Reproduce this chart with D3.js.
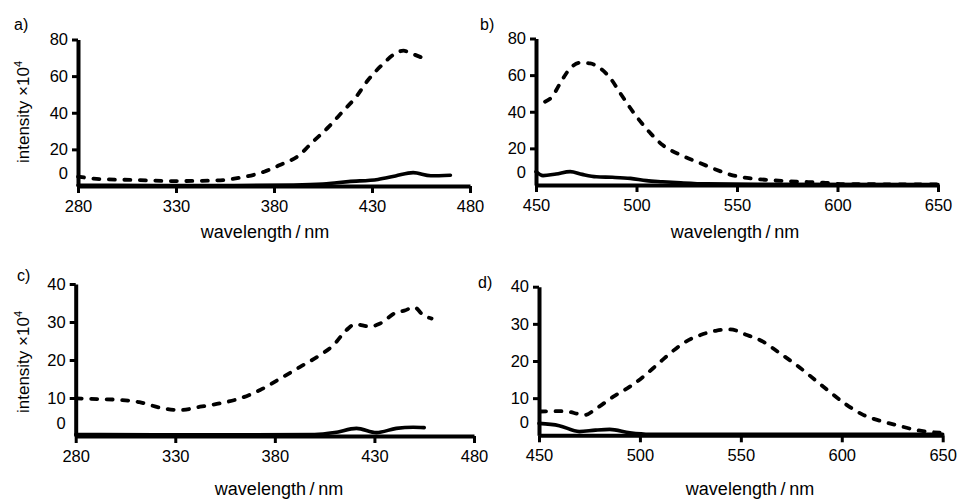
<!DOCTYPE html>
<html>
<head>
<meta charset="utf-8">
<script src="https://cdn.jsdelivr.net/npm/d3@7"></script>
<style>
  body { margin: 0; background: #fff; }
  svg { display: block; font-family: "Liberation Sans", Arial, sans-serif; }
</style>
</head>
<body>
<div id="chart"></div>
<script>
// ---- data ----
// panel a (excitation, 280-480 nm)
var aDashWl  = [280, 291, 308, 330, 350, 365, 375, 383, 393, 399, 408, 415, 422, 428, 435, 442, 446, 450, 455];
var aDashVal = [5.1, 3.8, 3.3, 2.7, 3.0, 5.0, 7.8, 11.5, 16.9, 23.3, 32.4, 40.6, 48.8, 57.9, 66.0, 72.4, 73.9, 72.4, 70.3];
var aSolidWl  = [280, 320, 360, 390, 405, 412, 418, 433, 442, 451, 460, 470];
var aSolidVal = [0.4, 0.3, 0.3, 0.5, 1.0, 1.8, 2.4, 3.6, 5.5, 7.3, 5.6, 5.9];

// panel b (emission, 450-650 nm)
var bDashWl  = [454.5, 458, 462, 467, 472, 477, 482, 487, 492, 497, 502, 507, 513, 522, 530, 538, 546.5, 556, 566, 581, 593, 603, 650];
var bDashVal = [45.5, 48.2, 55.5, 63.7, 66.8, 66.4, 63.7, 58.3, 50.0, 41.9, 34.6, 28.2, 21.8, 16.4, 12.7, 9.1, 5.7, 3.7, 2.7, 1.8, 1.3, 0.5, 0.3];
var bSolidWl  = [450, 453.5, 460, 467, 473, 480, 488, 497, 505, 513, 522, 535, 560, 650];
var bSolidVal = [7.3, 5.1, 6.0, 7.3, 5.8, 4.5, 4.2, 3.6, 2.4, 1.8, 1.2, 0.6, 0.4, 0.3];

// panel c (excitation, 280-480 nm)
var cDashWl  = [280, 292, 302, 312, 322, 332, 342.5, 352.5, 362.6, 372.6, 383, 392.7, 402.7, 409.4, 416, 420.3, 427.8, 432.8, 441, 445, 450, 454.5, 458.7];
var cDashVal = [9.9, 9.7, 9.5, 8.9, 7.5, 6.8, 7.7, 8.6, 9.9, 12.1, 15.2, 18.2, 21.3, 23.9, 27.9, 29.4, 28.8, 29.6, 32.5, 33.0, 33.9, 31.8, 30.9];
var cSolidWl  = [280, 320, 360, 400, 410, 421, 431, 441, 449.5, 455];
var cSolidVal = [0.4, 0.3, 0.3, 0.4, 0.9, 2.0, 0.9, 2.0, 2.3, 2.2];

// panel d (emission, 450-650 nm)
var dDashWl  = [450.5, 462, 472.8, 478.6, 486.8, 495, 501.7, 508.3, 515, 521.5, 530, 538, 544.7, 553, 561, 569.3, 577.6, 585.9, 594, 602.4, 610.6, 619, 628.8, 637, 648.5];
var dDashVal = [6.4, 6.5, 5.5, 7.3, 10.4, 13.1, 15.8, 18.9, 22.1, 24.8, 27.0, 28.2, 28.5, 27.0, 25.2, 22.1, 18.9, 15.3, 11.7, 8.2, 5.5, 3.9, 2.5, 1.4, 0.7];
var dSolidWl  = [450, 460, 470, 478, 485, 495, 505, 550, 650];
var dSolidVal = [3.2, 2.6, 1.0, 1.4, 1.6, 0.7, 0.3, 0.3, 0.3];

var excitationTicks = [280, 330, 380, 430, 480];
var emissionTicks = [450, 500, 550, 600, 650];
var yTicks80 = [0, 20, 40, 60, 80];
var yTicks40 = [0, 10, 20, 30, 40];

// ---- layout ----
var svg = d3.select("#chart")
    .append("svg")
    .attr("width", 959)
    .attr("height", 501);

var panels = [
    { label: "a)", lx: 14, ly: 30, xr: [78, 470], yr: [186, 39.5], xd: [280, 480], yd: [0, 80],
      xt: excitationTicks, yt: yTicks80, titleX: 265, titleY: 238, yTitle: true, yTitleY: 112,
      dash: [aDashWl, aDashVal], solid: [aSolidWl, aSolidVal] },
    { label: "b)", lx: 480, ly: 30, xr: [536, 938], yr: [185, 38.5], xd: [450, 650], yd: [0, 80],
      xt: emissionTicks, yt: yTicks80, titleX: 735, titleY: 238, yTitle: false,
      dash: [bDashWl, bDashVal], solid: [bSolidWl, bSolidVal] },
    { label: "c)", lx: 17, ly: 281, xr: [75.7, 474], yr: [436, 284], xd: [280, 480], yd: [0, 40],
      xt: excitationTicks, yt: yTicks40, titleX: 279, titleY: 495, yTitle: true, yTitleY: 362,
      dash: [cDashWl, cDashVal], solid: [cSolidWl, cSolidVal] },
    { label: "d)", lx: 478, ly: 288, xr: [539, 942.7], yr: [435.3, 286.7], xd: [450, 650], yd: [0, 40],
      xt: emissionTicks, yt: yTicks40, titleX: 750, titleY: 495, yTitle: false,
      dash: [dDashWl, dDashVal], solid: [dSolidWl, dSolidVal] }
];

panels.forEach(function(p) {
    var x = d3.scaleLinear().domain(p.xd).range(p.xr);
    var y = d3.scaleLinear().domain(p.yd).range(p.yr);
    var g = svg.append("g");

    // curves
    var line = d3.line()
        .x(function(d) { return x(d[0]); })
        .y(function(d) { return y(d[1]); })
        .curve(d3.curveMonotoneX);

    g.append("path")
        .datum(d3.zip(p.solid[0], p.solid[1]))
        .attr("fill", "none")
        .attr("stroke", "#000")
        .attr("stroke-width", 3.6)
        .attr("stroke-linecap", "round")
        .attr("d", line);

    g.append("path")
        .datum(d3.zip(p.dash[0], p.dash[1]))
        .attr("fill", "none")
        .attr("stroke", "#000")
        .attr("stroke-width", 3.8)
        .attr("stroke-linecap", "round")
        .attr("stroke-dasharray", "6,9.5")
        .attr("d", line);

    // x axis
    var xa = g.append("g")
        .attr("transform", "translate(0," + p.yr[0] + ")")
        .call(d3.axisBottom(x).tickValues(p.xt).tickSize(7).tickSizeOuter(0).tickPadding(7));
    xa.select(".domain").attr("stroke-width", 4);
    xa.selectAll(".tick line").attr("stroke-width", 3);
    xa.selectAll("text").attr("font-size", 16.5).attr("fill", "#000");

    // y axis
    var ya = g.append("g")
        .attr("transform", "translate(" + p.xr[0] + ",0)")
        .call(d3.axisLeft(y).tickValues(p.yt).tickSize(6).tickSizeOuter(0).tickPadding(4));
    ya.select(".domain").attr("stroke-width", 4);
    ya.selectAll(".tick line").attr("stroke-width", 3);
    ya.selectAll("text").attr("font-size", 16.5).attr("fill", "#000");
    // the zero label sits above the baseline in the original
    ya.selectAll(".tick").filter(function(d) { return d === 0; })
        .select("text").attr("y", -13);
    ya.selectAll(".tick").filter(function(d) { return d === 0; })
        .select("line").remove();

    // titles
    g.append("text")
        .attr("x", p.titleX)
        .attr("y", p.titleY)
        .attr("text-anchor", "middle")
        .attr("font-size", 18)
        .text("wavelength\u2009/\u2009nm");

    if (p.yTitle) {
        var yt = g.append("text")
            .attr("transform", "translate(29," + p.yTitleY + ") rotate(-90)")
            .attr("text-anchor", "middle")
            .attr("font-size", 17);
        yt.append("tspan").text("intensity \u00d710");
        yt.append("tspan").attr("dy", -7).attr("font-size", 11).text("4");
    }

    g.append("text")
        .attr("x", p.lx)
        .attr("y", p.ly)
        .attr("font-size", 16)
        .text(p.label);
});
</script>
</body>
</html>
